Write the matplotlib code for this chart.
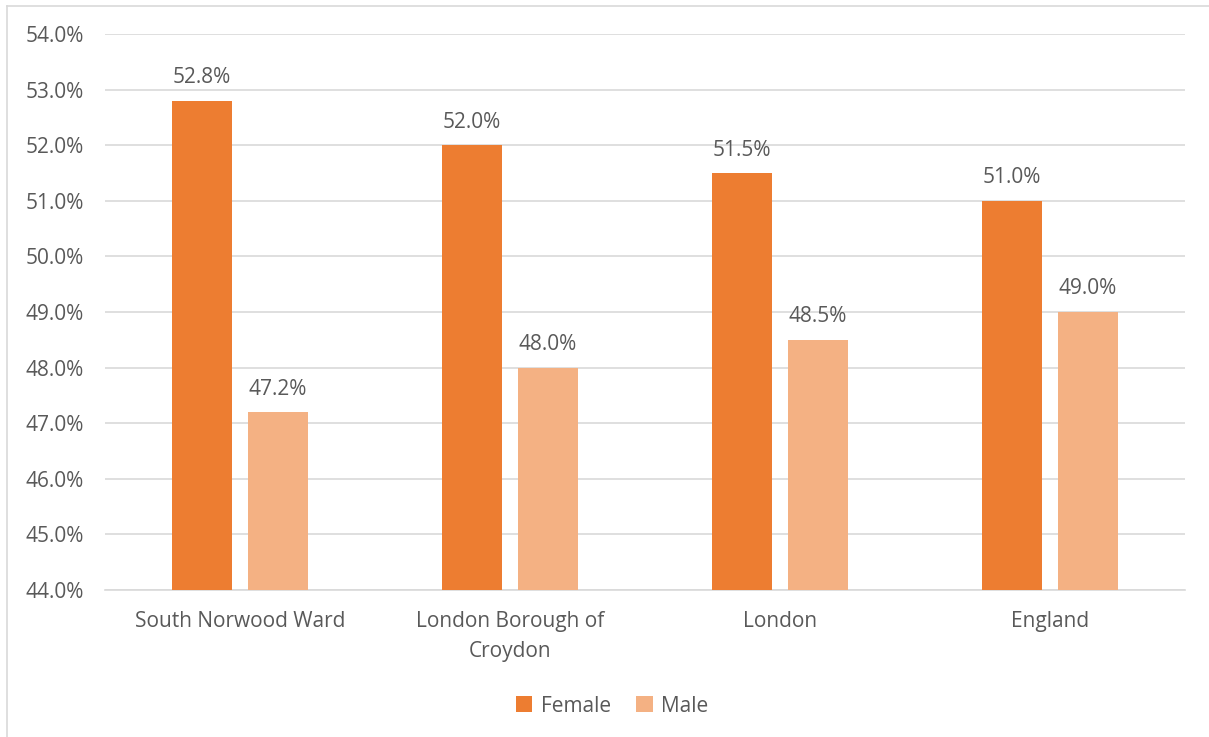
import numpy as np
import matplotlib.pyplot as plt
from matplotlib.lines import Line2D
from matplotlib.ticker import FuncFormatter

# Population split by sex
categories = ['South Norwood Ward', 'London Borough of\nCroydon', 'London', 'England']
female = [52.8, 52.0, 51.5, 51.0]
male = [47.2, 48.0, 48.5, 49.0]

female_color = '#ED7D31'
male_color = '#F4B183'
text_color = '#595959'

plt.rcParams['font.family'] = ['Open Sans', 'DejaVu Sans']

fig = plt.figure(figsize=(12.09, 7.37), dpi=100)
ax = fig.add_axes([105/1209, 1 - 590/737, 1080/1209, 556/737])

x = np.arange(len(categories))
width = 0.222
gap = 0.059
b1 = ax.bar(x - (width + gap)/2, female, width, color=female_color, label='Female', zorder=3)
b2 = ax.bar(x + (width + gap)/2, male, width, color=male_color, label='Male', zorder=3)

for bars, vals in [(b1, female), (b2, male)]:
    for bar, v in zip(bars, vals):
        ax.annotate(f'{v:.1f}%', (bar.get_x() + bar.get_width()/2, v),
                    xytext=(0, 9), textcoords='offset points',
                    ha='center', va='bottom', fontsize=15, color=text_color)

ax.set_ylim(44, 54)
ax.set_xlim(-0.5, len(categories) - 0.5)
ax.set_yticks(np.arange(44, 54.1, 1))
ax.yaxis.set_major_formatter(FuncFormatter(lambda v, p: f'{v:.1f}%'))
ax.set_xticks(x)
ax.set_xticklabels(categories, linespacing=1.6)
ax.tick_params(axis='both', length=0, labelsize=15, labelcolor=text_color)
ax.tick_params(axis='x', pad=15)
ax.tick_params(axis='y', pad=15)
ax.grid(axis='y', color='#D9D9D9', linewidth=1.2, zorder=0)
for s in ['top', 'right', 'left']:
    ax.spines[s].set_visible(False)
ax.spines['bottom'].set_color('#D9D9D9')
ax.spines['bottom'].set_linewidth(1.2)

ax.legend(loc='center', bbox_to_anchor=(507/1080, -116/556), ncol=2, frameon=False,
          fontsize=15, labelcolor=text_color, handlelength=0.8, handleheight=0.8,
          handletextpad=0.4, columnspacing=1.2)

# chart area border (only top and left visible)
fig.add_artist(Line2D([7/1209, 7/1209], [0, 1 - 6/737], transform=fig.transFigure, color='#D9D9D9', lw=1.2))
fig.add_artist(Line2D([7/1209, 1], [1 - 6/737, 1 - 6/737], transform=fig.transFigure, color='#D9D9D9', lw=1.2))

fig.savefig('out.png', dpi=100)
